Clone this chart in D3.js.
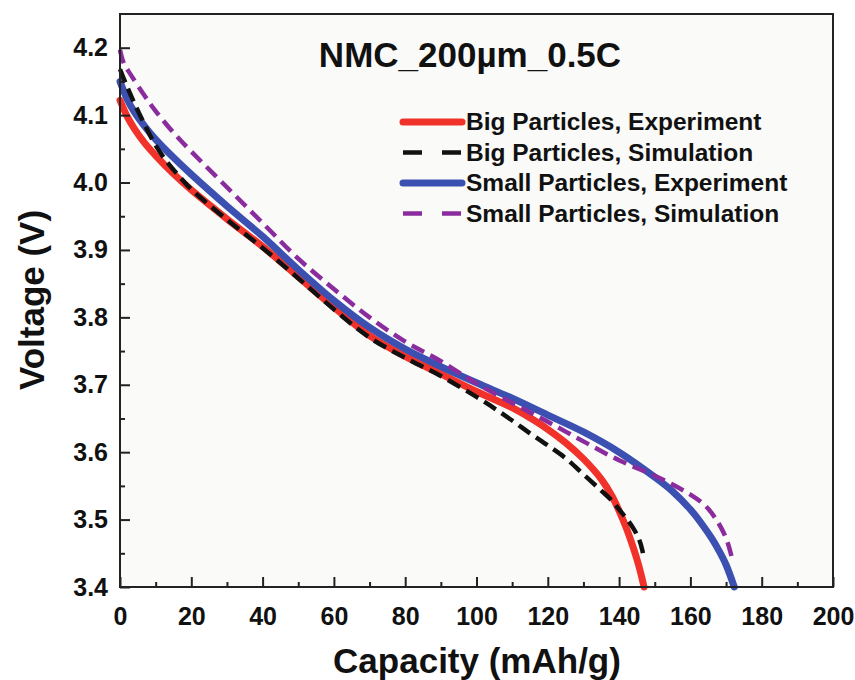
<!DOCTYPE html>
<html>
<head>
<meta charset="utf-8">
<script src="https://cdn.jsdelivr.net/npm/d3@7"></script>
<style>
  body { margin: 0; background: #fff; }
  svg text { font-family: "Liberation Sans", Arial, sans-serif; font-weight: bold; fill: #111; }
</style>
</head>
<body>
<div id="chart"></div>
<script>
// discharge curves
var bigExpCap = [0, 2, 4, 7, 10, 15, 20, 30, 40, 50, 60, 70, 80, 90, 100, 110, 115, 120, 125, 130, 135, 138, 140, 142, 144, 145.5, 147];
var bigExpV   = [4.122, 4.098, 4.080, 4.058, 4.040, 4.013, 3.989, 3.946, 3.905, 3.860, 3.815, 3.773, 3.742, 3.716, 3.690, 3.666, 3.651, 3.634, 3.614, 3.590, 3.560, 3.535, 3.513, 3.488, 3.458, 3.432, 3.40];

var bigSimCap = [0, 2, 4, 7, 10, 13, 16, 20, 30, 40, 50, 60, 70, 80, 90, 100, 105, 110, 115, 120, 125, 130, 135, 138, 140, 142, 144, 145.5, 146.5, 147];
var bigSimV   = [4.168, 4.142, 4.118, 4.085, 4.055, 4.032, 4.013, 3.990, 3.945, 3.903, 3.858, 3.812, 3.770, 3.740, 3.713, 3.682, 3.665, 3.647, 3.628, 3.610, 3.591, 3.567, 3.543, 3.528, 3.515, 3.502, 3.487, 3.472, 3.455, 3.44];

var smallExpCap = [0, 2, 4, 7, 10, 15, 20, 30, 40, 50, 60, 70, 80, 90, 100, 110, 120, 130, 140, 150, 155, 160, 163, 166, 168, 170, 172.3];
var smallExpV   = [4.150, 4.124, 4.105, 4.083, 4.064, 4.037, 4.012, 3.965, 3.920, 3.871, 3.825, 3.785, 3.753, 3.727, 3.703, 3.680, 3.655, 3.630, 3.600, 3.563, 3.542, 3.515, 3.495, 3.472, 3.454, 3.433, 3.400];

var smallSimCap = [0, 1, 3, 7, 10, 15, 20, 30, 40, 50, 60, 70, 80, 90, 100, 110, 120, 130, 140, 150, 155, 160, 163, 165, 167, 169, 170.5, 171.8];
var smallSimV   = [4.197, 4.178, 4.160, 4.128, 4.106, 4.074, 4.046, 3.993, 3.940, 3.887, 3.842, 3.800, 3.764, 3.735, 3.702, 3.673, 3.645, 3.616, 3.588, 3.565, 3.552, 3.537, 3.526, 3.516, 3.502, 3.484, 3.465, 3.44];

var seriesNames = ["Big Particles, Experiment", "Big Particles, Simulation", "Small Particles, Experiment", "Small Particles, Simulation"];
var xTicks = [0, 20, 40, 60, 80, 100, 120, 140, 160, 180, 200];
var yTicks = [3.4, 3.5, 3.6, 3.7, 3.8, 3.9, 4.0, 4.1, 4.2];
var chartTitle = "NMC_200\u00b5m_0.5C";

var w = 855, h = 680;
var margin = {left: 120, right: 22, top: 14, bottom: 93};
var pw = w - margin.left - margin.right;
var ph = h - margin.top - margin.bottom;

var svg = d3.select("#chart").append("svg")
    .attr("width", w)
    .attr("height", h);

var plot = svg.append("g")
    .attr("transform", `translate(${margin.left}, ${margin.top})`);

var xScale = d3.scaleLinear().domain([0, 200]).range([0, pw]);
var yScale = d3.scaleLinear().domain([3.4, 4.25]).range([ph, 0]);

plot.append("rect")
    .attr("width", pw).attr("height", ph)
    .attr("fill", "#fafaf8");

// styles for each curve (red, black dash, blue, purple dash)
var styles = [
    {color: "#f0322b", width: 7, dash: null, legDash: null},
    {color: "#111111", width: 4.5, dash: "14,7", legDash: "19,20"},
    {color: "#3b50b0", width: 7, dash: null, legDash: null},
    {color: "#8a2c9e", width: 4.5, dash: "14,7", legDash: "19,20"}
];

var curves = [
    d3.zip(bigExpCap, bigExpV),
    d3.zip(bigSimCap, bigSimV),
    d3.zip(smallExpCap, smallExpV),
    d3.zip(smallSimCap, smallSimV)
];

var line = d3.line()
    .x(d => xScale(d[0]))
    .y(d => yScale(d[1]))
    .curve(d3.curveCatmullRom.alpha(0.5));

// draw order: red, blue, black, purple
[0, 2, 1, 3].forEach(i => {
    plot.append("path")
        .datum(curves[i])
        .attr("d", line)
        .attr("fill", "none")
        .attr("stroke", styles[i].color)
        .attr("stroke-width", styles[i].width)
        .attr("stroke-dasharray", styles[i].dash)
        .attr("stroke-linecap", styles[i].dash ? "butt" : "round");
});

// axes with inward ticks
var xAxis = d3.axisBottom(xScale).tickValues(xTicks).tickSize(-10).tickPadding(20).tickFormat(d3.format("d"));
var xMinor = d3.axisBottom(xScale).tickValues(d3.range(10, 200, 20)).tickSize(-5).tickFormat("");
var yAxis = d3.axisLeft(yScale).tickValues(yTicks).tickSize(-10).tickPadding(12).tickFormat(d3.format(".1f"));
var yMinor = d3.axisLeft(yScale).tickValues(d3.range(3.45, 4.2, 0.1)).tickSize(-5).tickFormat("");

var gx = plot.append("g").attr("transform", `translate(0, ${ph})`).call(xAxis);
plot.append("g").attr("transform", `translate(0, ${ph})`).call(xMinor);
var gy = plot.append("g").call(yAxis);
plot.append("g").call(yMinor);

plot.selectAll(".domain").remove();
plot.selectAll(".tick line").attr("stroke", "#222").attr("stroke-width", 2);
gx.selectAll("text").attr("font-size", 25).attr("dy", "0.71em");
gy.selectAll("text").attr("font-size", 25);

// frame
plot.append("rect")
    .attr("width", pw).attr("height", ph)
    .attr("fill", "none")
    .attr("stroke", "#222")
    .attr("stroke-width", 2);

// titles
svg.append("text")
    .attr("x", 470).attr("y", 67)
    .attr("text-anchor", "middle")
    .attr("font-size", 35)
    .text(chartTitle);

svg.append("text")
    .attr("x", 477).attr("y", 673)
    .attr("text-anchor", "middle")
    .attr("font-size", 35)
    .text("Capacity (mAh/g)");

svg.append("text")
    .attr("transform", "translate(44, 300) rotate(-90)")
    .attr("text-anchor", "middle")
    .attr("font-size", 35)
    .text("Voltage (V)");

// legend
var legend = svg.append("g").attr("transform", "translate(403, 122)");
seriesNames.forEach((name, i) => {
    var row = legend.append("g").attr("transform", `translate(0, ${i * 30.5})`);
    row.append("line")
        .attr("x1", 0).attr("x2", 59)
        .attr("stroke", styles[i].color)
        .attr("stroke-width", styles[i].width)
        .attr("stroke-dasharray", styles[i].legDash)
        .attr("stroke-linecap", styles[i].legDash ? "butt" : "round");
    row.append("text")
        .attr("x", 63).attr("y", 8)
        .attr("font-size", 24.5)
        .text(name);
});
</script>
</body>
</html>
